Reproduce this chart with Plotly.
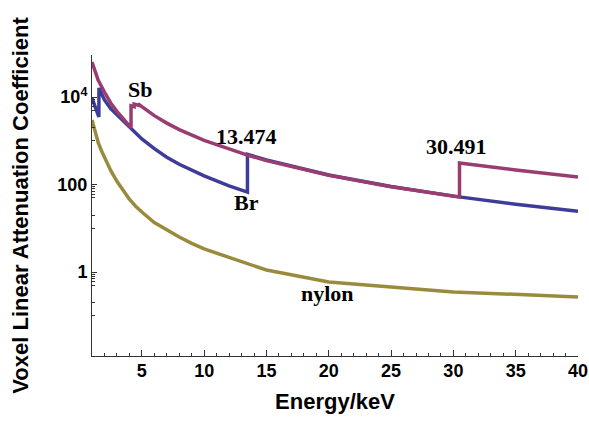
import math
import plotly.graph_objects as go

# ---- data (energy in keV, linear attenuation coefficient) ----
e_br = [1.0, 1.55, 1.56, 1.8, 2.0, 2.5, 3.0, 3.5, 4.0, 5.0, 6.0, 7.0, 8.0, 10.0, 12.0,
        13.474, 13.474, 15.0, 20.0, 25.0, 30.0, 35.0, 40.0]
mu_br = [9500, 3500, 16000, 11500, 8600, 5400, 3900, 2800, 2100, 1100, 660, 420, 290, 157, 93,
         67, 490, 365, 165, 89.6, 54.2, 35.5, 24.6]

e_sb = [1.0, 1.5, 2.0, 2.5, 3.0, 3.5, 4.0, 4.132, 4.132, 4.381, 4.381, 4.698, 4.698, 5.0,
        6.0, 7.0, 8.0, 10.0, 12.0, 13.474, 15.0, 20.0, 25.0, 30.0, 30.491, 30.491, 35.0, 40.0]
mu_sb = [63000, 24000, 13000, 7300, 4700, 3100, 2200, 2000, 6300, 6000, 6900, 6500, 7000, 6000,
         3750, 2530, 1800, 1020, 641, 470, 352, 163, 89, 54.5, 52, 310, 214, 149]

e_nylon = [1.0, 1.25, 1.5, 1.75, 2.0, 2.5, 3.0, 3.5, 4.0, 4.5, 5.0, 6.0, 7.0, 8.0, 9.0,
           10.0, 15.0, 20.0, 30.0, 40.0]
mu_nylon = [3000, 1545, 900, 598, 420, 209, 118, 71, 46, 32, 23.5, 13.5, 9.0, 6.3, 4.5,
            3.36, 1.11, 0.59, 0.35, 0.27]

x_ticks = [5, 10, 15, 20, 25, 30, 35, 40]
y_ticks = [1, 100, 10000]
y_ticktext = ["<b>1</b>", "<b>100</b>", "<b>10<sup>4</sup></b>"]

labels = ["Sb", "13.474", "30.491", "Br", "nylon"]
label_e = [4.85, 13.39, 30.27, 13.39, 19.89]
label_mu = [10**4.18, 10**3.09, 10**2.88, 10**1.58, 10**-0.48]

BLUE = "rgb(61,61,153)"
MAG = "rgb(153,61,113)"
OLIVE = "rgb(153,139,61)"
serif = "Liberation Serif, Times New Roman, serif"
sans = "Liberation Sans, Arial, sans-serif"

fig = go.Figure()
fig.add_trace(go.Scatter(x=e_br, y=mu_br, mode="lines", line=dict(color=BLUE, width=3.5), showlegend=False))
fig.add_trace(go.Scatter(x=e_sb, y=mu_sb, mode="lines", line=dict(color=MAG, width=3.5), showlegend=False))
fig.add_trace(go.Scatter(x=e_nylon, y=mu_nylon, mode="lines", line=dict(color=OLIVE, width=3.5), showlegend=False))

for t, xe, ym in zip(labels, label_e, label_mu):
    fig.add_annotation(x=xe, y=math.log10(ym), text="<b>" + t + "</b>", showarrow=False,
                       font=dict(family=serif, size=22, color="black"),
                       xanchor="center", yanchor="middle")

minor_y = []
for m in [0.01, 1, 100, 10000]:
    for f in [0.1, 0.2, 0.5, 0.6, 0.7, 0.8, 0.9]:
        minor_y.append(m * f)

fig.update_layout(
    template="none",
    width=589, height=422,
    margin=dict(l=92, r=11, t=55, b=66),
    paper_bgcolor="white", plot_bgcolor="white",
    xaxis=dict(range=[1, 40], tickvals=x_ticks, ticktext=["<b>%d</b>" % v for v in x_ticks],
               ticks="inside", ticklen=6, tickcolor="#333", automargin=False,
               showline=True, linecolor="#333", linewidth=1, showgrid=False, zeroline=False,
               tickfont=dict(family=sans, size=18, color="black"), ticklabelstandoff=-2,
               minor=dict(dtick=1, tick0=0, ticks="inside", ticklen=3, tickcolor="#333", showgrid=False),
               title=dict(text="<b>Energy/keV</b>", font=dict(family=sans, size=22, color="black"), standoff=14)),
    yaxis=dict(type="log", range=[-1.92, 4.96], tickvals=y_ticks, ticktext=y_ticktext,
               ticks="inside", ticklen=5, tickcolor="#333", automargin=False,
               showline=True, linecolor="#333", linewidth=1, showgrid=False, zeroline=False,
               tickfont=dict(family=sans, size=18, color="black"),
               minor=dict(tickvals=minor_y, ticks="inside", ticklen=3, tickcolor="#333", showgrid=False),
               title=dict(text="<b>Voxel Linear Attenuation Coefficient</b>",
                          font=dict(family=sans, size=22, color="black"), standoff=22)),
)

fig.write_html("out.html")
